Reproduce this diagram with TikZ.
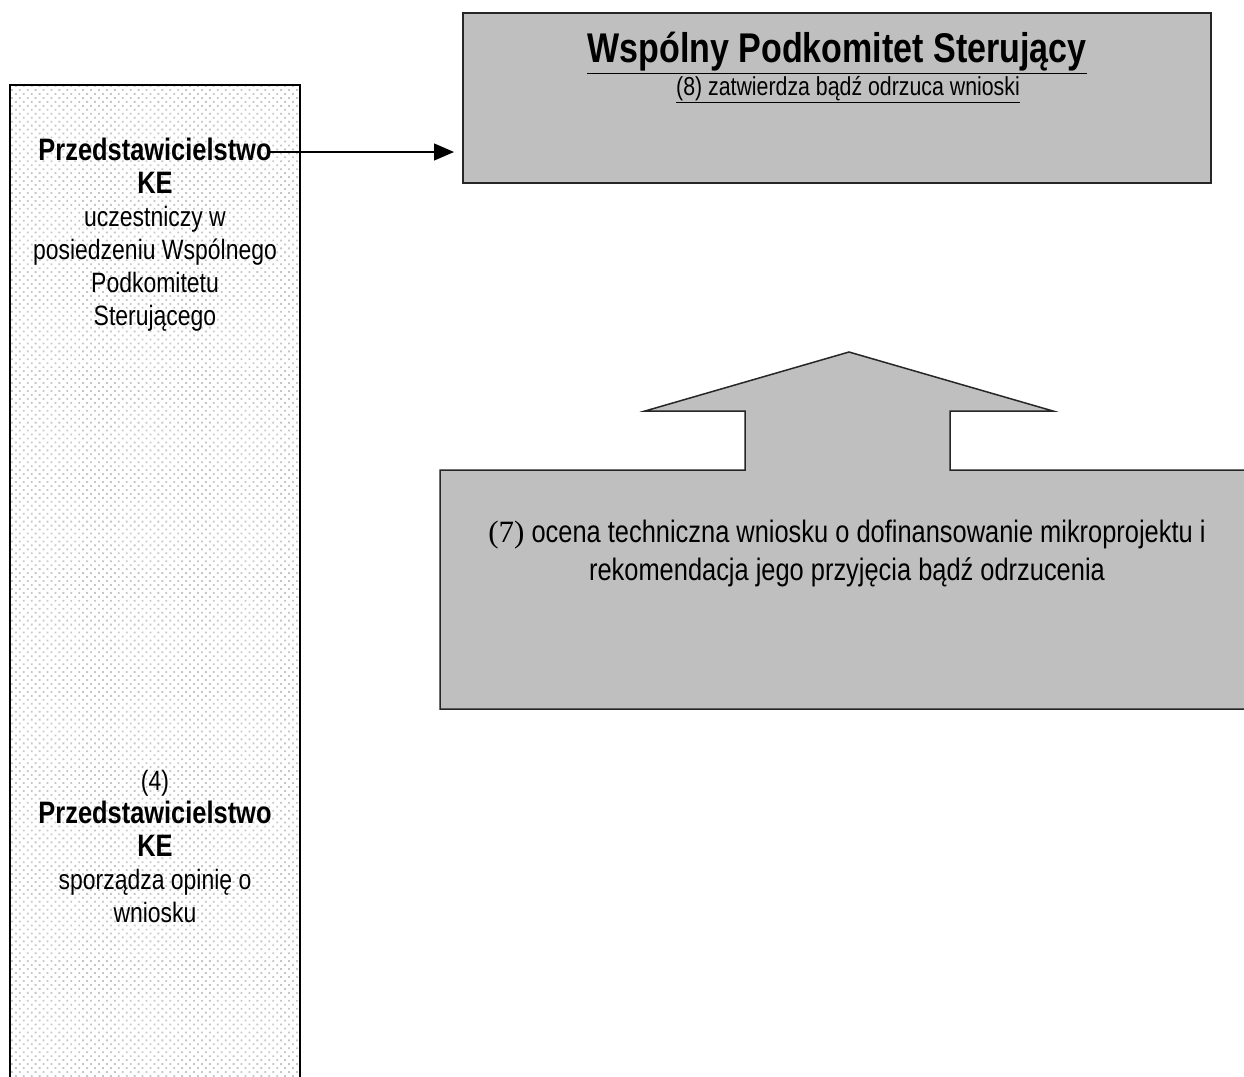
\documentclass[tikz,border=0pt]{standalone}
\usepackage{fontspec}
\setmainfont{Liberation Sans}[FakeStretch=0.82]
\newfontfamily\serifseven{Liberation Serif}
\usetikzlibrary{patterns.meta,arrows.meta}
\begin{document}
\begin{tikzpicture}[x=1pt,y=-1pt,
  dotbox/.style={draw=black,line width=2pt,pattern={Dots[distance=5.6pt,radius=1.3pt,angle=45]},pattern color=gray!45},
  graybox/.style={draw=black!85,line width=1.6pt,fill=black!25},
  txt/.style={align=center,inner sep=0pt,font=\fontsize{28}{33}\selectfont},
  conn/.style={line width=1.3pt,-{Triangle[length=20pt,width=17pt]}}]
\useasboundingbox (0,0) rectangle (1244,1076);
\clip (0,0) rectangle (1244,1076);
% left box
\path[dotbox] (10,85) rectangle (300,1090);
\node[txt] (ke1) at (155,235)
  {\textbf{\fontsize{31}{33}\selectfont Przedstawicielstwo}\\ \textbf{\fontsize{31}{33}\selectfont KE}\\ uczestniczy w\\ posiedzeniu Wspólnego\\ Podkomitetu\\ Sterującego};
\node[txt] (ke2) at (155,846)
  {(4)\\ \textbf{\fontsize{31}{33}\selectfont Przedstawicielstwo}\\ \textbf{\fontsize{31}{33}\selectfont KE}\\ sporządza opinię o\\ wniosku};
% top box
\node[graybox,minimum width=748pt,minimum height=170pt,inner sep=0pt] (wps) at (837,98) {};
\node[txt,font=\fontsize{41.5}{44}\selectfont\bfseries] (wpt) at (837,53) {\underline{Wspólny Podkomitet Sterujący}};
\node[txt,font=\fontsize{26}{30}\selectfont] (wpsub) at (848,90) {\underline{(8) zatwierdza bądź odrzuca wnioski}};
% arrow
\coordinate (astart) at (270,152);
\coordinate (aend) at (454,152);
\draw[conn] (astart) -- (aend);
% block arrow
\path[graybox,line width=1.5pt] (440,470) -- (745,470) -- (745,411) -- (645,411) -- (849,352) -- (1053,411) -- (950,411) -- (950,470) -- (1250,470) -- (1250,709) -- (440,709) -- cycle;
\node[txt,font=\fontsize{31}{38}\selectfont] (ocena) at (847,553) {{\serifseven (7)} ocena techniczna wniosku o dofinansowanie mikroprojektu i\\ rekomendacja jego przyjęcia bądź odrzucenia};
\end{tikzpicture}
\end{document}
